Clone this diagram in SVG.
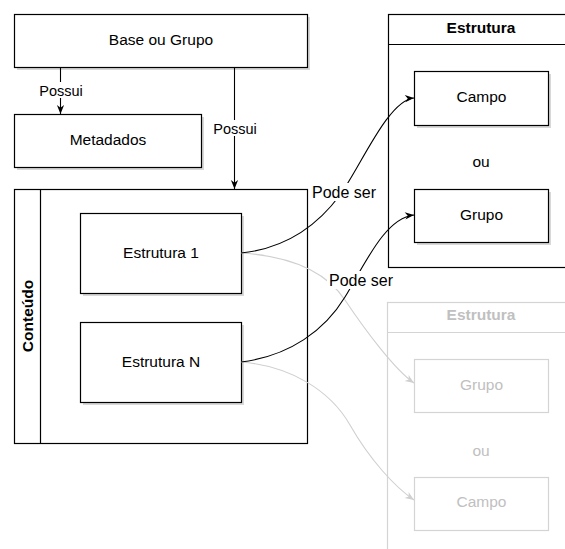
<svg xmlns="http://www.w3.org/2000/svg" width="565" height="549" viewBox="0 0 565 549">
<style>
text{font-family:"Liberation Sans",Arial,Helvetica,sans-serif;font-size:15.5px;text-anchor:middle;fill:#000}
.lbl{font-size:14.5px}
.pode{font-size:16px}
.b{font-weight:bold}
.box{fill:#fff;stroke:#000;stroke-width:1.2}
.sh{fill:#d8d8d8;stroke:none}
.gbox{fill:#fff;stroke:#d4d4d4;stroke-width:1.2}
.gt{fill:#c0c0c0}
.edge{fill:none;stroke:#000;stroke-width:1.1}
.gedge{fill:none;stroke:#cfcfcf;stroke-width:1.1}
.bg{fill:#fff;stroke:none}
</style>
<defs>
<marker id="arr" viewBox="0 0 10 10" refX="10" refY="5" markerWidth="10" markerHeight="9" markerUnits="userSpaceOnUse" orient="auto">
<path d="M0,1 L10,5 L0,9 L3,5 Z" fill="#000"/>
</marker>
<marker id="garr" viewBox="0 0 10 10" refX="10" refY="5" markerWidth="10" markerHeight="9" markerUnits="userSpaceOnUse" orient="auto">
<path d="M0,1 L10,5 L0,9 L3,5 Z" fill="#cfcfcf"/>
</marker>
</defs>
<rect width="565" height="549" fill="#fff"/>

<g id="base">
<rect class="sh" x="17" y="17" width="293" height="53"/>
<rect class="box" x="14.5" y="14.5" width="293" height="53"/>
<text x="161" y="45">Base ou Grupo</text>
</g>
<g id="metadados">
<rect class="sh" x="17" y="117" width="187" height="53"/>
<rect class="box" x="14.5" y="114.5" width="187" height="53"/>
<text x="108" y="144.5">Metadados</text>
</g>
<g id="conteudo">
<rect class="box" x="14.5" y="189.5" width="293" height="254"/>
<line x1="40.5" y1="189.5" x2="40.5" y2="443.5" stroke="#000" stroke-width="1.2"/>
<text class="b" transform="translate(33,316) rotate(-90)">Conteúdo</text>
</g>
<g id="estrutura1">
<rect class="sh" x="83" y="216" width="161" height="80"/>
<rect class="box" x="80.5" y="213.5" width="161" height="80"/>
<text x="161" y="257.5">Estrutura 1</text>
</g>
<g id="estruturaN">
<rect class="sh" x="83" y="325" width="161" height="80"/>
<rect class="box" x="80.5" y="322.5" width="161" height="80"/>
<text x="161" y="366.5">Estrutura N</text>
</g>
<g id="estrutura-top">
<rect class="box" x="388.5" y="14.5" width="200" height="253"/>
<line x1="388.5" y1="44.5" x2="588" y2="44.5" stroke="#000" stroke-width="1.2"/>
<text class="b" x="481" y="32.5">Estrutura</text>
<text x="481" y="167">ou</text>
</g>
<g id="campo">
<rect class="sh" x="417" y="74" width="134" height="54"/>
<rect class="box" x="414.5" y="71.5" width="134" height="54"/>
<text x="481.5" y="102">Campo</text>
</g>
<g id="grupo">
<rect class="sh" x="417" y="192" width="134" height="53"/>
<rect class="box" x="414.5" y="189.5" width="134" height="53"/>
<text x="481.5" y="220">Grupo</text>
</g>
<g id="estrutura-grey">
<rect class="gbox" x="387.5" y="302.5" width="200" height="300"/>
<line x1="387.5" y1="332.5" x2="588" y2="332.5" stroke="#d4d4d4" stroke-width="1.2"/>
<text class="b gt" x="481" y="320">Estrutura</text>
<text class="gt" x="481" y="455.5">ou</text>
</g>
<g id="grupo-grey">
<rect class="gbox" x="414.5" y="359.5" width="134" height="53"/>
<text class="gt" x="481.5" y="389.5">Grupo</text>
</g>
<g id="campo-grey">
<rect class="gbox" x="414.5" y="477.5" width="134" height="53"/>
<text class="gt" x="481.5" y="506.5">Campo</text>
</g>

<g id="connectors">
<path class="gedge" d="M241,253 C290,256 325,270 345,300 S395,370 414,383" marker-end="url(#garr)"/>
<path class="gedge" d="M241,362 C290,366 330,390 350,425 S395,487 414,500" marker-end="url(#garr)"/>
<path class="edge" d="M60.5,67.5 L60.5,114" marker-end="url(#arr)"/>
<path class="edge" d="M234.5,67.5 L234.5,189" marker-end="url(#arr)"/>
<path class="edge" d="M241,253 C290,248 320,222 340,195 S388,100 414,98" marker-end="url(#arr)"/>
<path class="edge" d="M241,362 C290,356 325,330 345,297 S385,218 414,215" marker-end="url(#arr)"/>
<rect class="bg" x="38" y="82" width="46" height="16"/>
<text class="lbl" x="61" y="95.5">Possui</text>
<rect class="bg" x="212" y="120" width="46" height="16"/>
<text class="lbl" x="235" y="133.5">Possui</text>
<rect class="bg" x="310" y="183" width="68" height="18"/>
<text class="pode" x="344" y="197.5">Pode ser</text>
<rect class="bg" x="327" y="271" width="68" height="18"/>
<text class="pode" x="361" y="285.5">Pode ser</text>
</g>
</svg>
